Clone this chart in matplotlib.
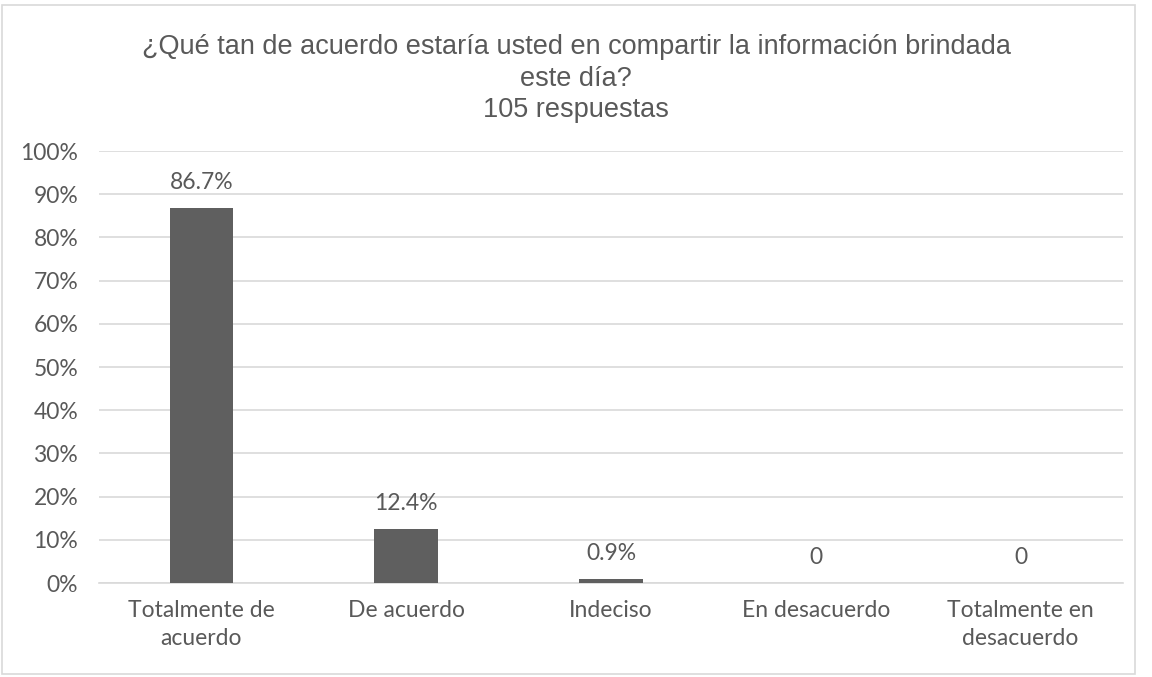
import matplotlib
matplotlib.use("Agg")
import matplotlib.pyplot as plt
from matplotlib.patches import Rectangle
from matplotlib.ticker import PercentFormatter

categories = ["Totalmente de\nacuerdo", "De acuerdo", "Indeciso", "En desacuerdo", "Totalmente en\ndesacuerdo"]
values = [86.7, 12.4, 0.9, 0.0, 0.0]
labels = ["86.7%", "12.4%", "0.9%", "0", "0"]
yticks = [0, 10, 20, 30, 40, 50, 60, 70, 80, 90, 100]

W, H = 1152, 677
fig = plt.figure(figsize=(W/100, H/100), dpi=100)
txt = "#595959"
font = ["Lato", "DejaVu Sans"]
tfont = ["Liberation Sans", "DejaVu Sans"]

fig.patches.append(Rectangle((2/W, 3/H), (1135-2)/W, (674-5)/H, transform=fig.transFigure,
                             fill=False, edgecolor="#d9d9d9", linewidth=1.2))

ax = fig.add_axes([99/W, 1-583/H, (1123-99)/W, (583-151)/H])
x = list(range(len(categories)))
ax.bar(x, values, width=0.31, color="#5f5f5f", zorder=3)
ax.set_xlim(-0.5, len(categories)-0.5)
ax.set_ylim(0, 100)
ax.set_yticks(yticks)
ax.yaxis.set_major_formatter(PercentFormatter(decimals=0))
ax.grid(axis="y", color="#d9d9d9", linewidth=1.2, zorder=0)
for s in ["top", "right", "left"]:
    ax.spines[s].set_visible(False)
ax.spines["bottom"].set_color("#d9d9d9")
ax.spines["bottom"].set_linewidth(1.2)
ax.tick_params(axis="both", length=0, colors=txt, labelsize=16.5)
ax.tick_params(axis="y", pad=15)
ax.tick_params(axis="x", pad=12)
ax.set_xticks(x)
ax.set_xticklabels(categories, fontfamily=font, linespacing=1.45)
for lab in ax.get_yticklabels():
    lab.set_fontfamily(font)
for xi, v, l in zip(x, values, labels):
    ax.annotate(l, (xi, v), xytext=(0, 11), textcoords="offset points", ha="center", va="bottom",
                fontsize=16.5, color=txt, fontfamily=font)

fig.text(0.5, 1-47/H, "¿Qué tan de acuerdo estaría usted en compartir la información brindada",
         ha="center", va="center", fontsize=19.5, color=txt, fontfamily=tfont)
fig.text(0.5, 1-79/H, "este día?", ha="center", va="center", fontsize=19.5, color=txt, fontfamily=tfont)
fig.text(0.5, 1-110/H, "105 respuestas", ha="center", va="center", fontsize=19.5, color=txt,
         fontfamily=tfont)

fig.savefig("out.png", dpi=100, facecolor="white")
